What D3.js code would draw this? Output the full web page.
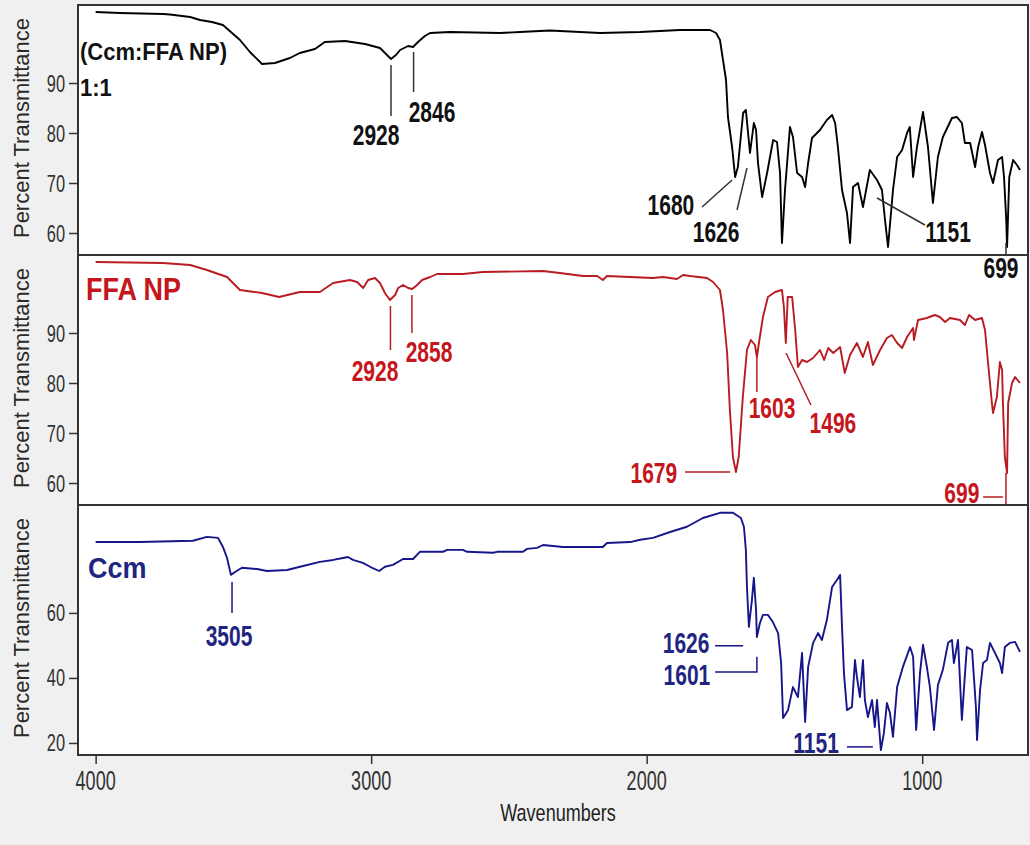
<!DOCTYPE html>
<html>
<head>
<meta charset="utf-8">
<script src="https://cdn.jsdelivr.net/npm/d3@7"></script>
<style>
  html, body { margin: 0; padding: 0; background: #f0f0f0; }
  svg { display: block; }
</style>
</head>
<body>
<div id="chart"></div>
<script>
// FTIR spectra, [wavenumber cm-1, % transmittance]
const mixSpectrum = [
  [4000,104.2],[3912,104.0],[3756,103.8],[3730,103.7],[3657,103.2],[3621,102.6],[3578,102.2],[3538,101.6],
  [3505,100.0],[3476,98.6],[3440,96.2],[3396,93.8],[3349,94.0],[3295,95.0],[3259,96.0],[3204,96.8],
  [3168,98.2],[3095,98.4],[3022,97.8],[2968,97.0],[2946,95.8],[2928,94.8],[2910,95.6],[2895,96.6],
  [2866,97.4],[2848,97.2],[2830,98.2],[2805,99.4],[2786,100.0],[2714,100.2],[2532,100.0],[2460,100.2],
  [2351,100.5],[2242,100.2],[2169,100.0],[2024,100.2],[1879,100.6],[1770,100.6],[1748,100.0],[1734,98.6],
  [1723,94.6],[1712,90.6],[1705,83.2],[1690,77.2],[1679,71.2],[1669,73.2],[1650,84.0],[1640,84.6],
  [1625,76.0],[1611,82.0],[1603,80.6],[1596,74.0],[1581,67.2],[1563,72.0],[1541,78.6],[1527,78.2],
  [1516,72.0],[1509,58.0],[1498,68.6],[1480,81.2],[1469,79.2],[1454,72.0],[1436,71.2],[1425,69.2],
  [1414,74.0],[1400,79.0],[1371,80.6],[1346,82.6],[1327,83.6],[1316,82.0],[1306,77.2],[1291,68.6],
  [1273,64.0],[1262,58.0],[1251,69.2],[1233,70.0],[1215,65.2],[1190,72.6],[1164,70.6],[1146,68.6],
  [1135,62.6],[1124,57.2],[1106,68.6],[1091,75.2],[1073,76.6],[1055,80.0],[1045,81.2],[1033,71.2],
  [1019,77.2],[997,84.2],[979,77.2],[961,66.0],[943,75.2],[925,79.2],[892,83.0],[874,83.2],
  [856,82.0],[845,78.0],[826,78.0],[808,73.2],[797,77.2],[783,80.2],[772,77.6],[754,72.0],
  [743,70.0],[725,74.6],[710,75.2],[703,71.2],[695,62.6],[692,57.2],[684,71.2],[670,74.6],
  [656,73.6],[645,72.6]
];

const ffaSpectrum = [
  [4000,104.2],[3756,104.0],[3657,103.6],[3596,102.6],[3523,101.2],[3476,98.6],[3396,98.0],[3334,97.2],
  [3259,98.2],[3186,98.2],[3138,100.0],[3077,100.6],[3051,100.2],[3029,99.0],[3011,100.6],[2986,101.0],
  [2968,100.0],[2950,98.0],[2932,96.6],[2913,97.6],[2902,99.0],[2884,99.6],[2866,99.0],[2851,98.8],
  [2833,99.6],[2815,100.6],[2786,101.2],[2761,101.8],[2667,101.8],[2594,102.2],[2376,102.4],[2315,102.0],
  [2231,101.4],[2180,101.4],[2159,100.6],[2144,101.4],[2060,101.2],[1977,101.0],[1941,101.2],[1890,100.8],
  [1868,101.6],[1843,101.4],[1781,101.0],[1759,100.2],[1734,98.6],[1723,94.6],[1708,86.0],[1698,74.6],
  [1687,65.2],[1676,62.2],[1666,65.2],[1651,77.2],[1636,86.6],[1622,88.6],[1607,87.6],[1600,85.2],
  [1592,88.2],[1578,93.2],[1560,97.2],[1534,98.2],[1509,98.6],[1502,95.2],[1495,88.0],[1488,97.2],
  [1472,97.2],[1461,90.6],[1451,83.2],[1436,84.6],[1418,84.2],[1396,85.0],[1371,86.6],[1356,84.6],
  [1341,87.0],[1323,86.0],[1298,87.2],[1281,82.0],[1262,85.6],[1237,88.0],[1215,85.2],[1197,88.2],
  [1179,83.6],[1153,86.6],[1128,89.0],[1110,89.6],[1091,88.0],[1073,87.0],[1055,89.2],[1033,91.0],
  [1030,88.6],[1015,92.6],[983,93.0],[954,93.6],[936,93.2],[917,92.2],[899,93.0],[863,92.6],
  [845,91.6],[830,93.6],[808,92.6],[783,93.0],[772,90.6],[761,84.0],[747,76.0],[743,74.0],
  [729,77.2],[718,84.2],[710,82.6],[707,76.0],[700,65.2],[692,62.0],[688,76.0],[674,80.0],
  [663,81.2],[645,80.0]
];

const ccmSpectrum = [
  [4000,81.8],[3839,81.8],[3647,82.2],[3596,83.4],[3556,83.1],[3538,80.3],[3523,76.9],[3509,71.7],
  [3494,72.6],[3469,73.9],[3414,73.5],[3378,72.9],[3305,73.2],[3258,74.2],[3186,75.7],[3138,76.3],
  [3102,76.9],[3084,77.2],[3066,76.3],[3030,75.4],[3004,74.2],[2971,72.9],[2950,74.2],[2921,74.8],
  [2884,76.6],[2848,76.6],[2823,78.8],[2739,78.8],[2725,79.4],[2667,79.4],[2652,78.8],[2558,78.5],
  [2543,78.8],[2449,78.8],[2434,79.7],[2398,80.0],[2376,80.9],[2304,80.3],[2159,80.3],[2144,81.5],
  [2060,81.8],[2024,82.5],[1977,83.1],[1915,84.9],[1854,86.5],[1796,89.2],[1734,90.8],[1687,90.8],
  [1658,89.2],[1647,86.5],[1640,79.4],[1636,68.0],[1629,55.7],[1618,64.0],[1611,70.8],[1603,60.9],
  [1600,52.6],[1589,56.9],[1578,59.4],[1560,59.4],[1542,57.2],[1523,53.8],[1512,44.6],[1505,27.7],
  [1487,30.1],[1469,37.2],[1451,34.1],[1436,47.7],[1425,26.5],[1414,43.4],[1396,50.8],[1378,53.8],
  [1364,51.7],[1346,57.8],[1327,68.0],[1309,70.2],[1298,71.7],[1291,55.7],[1284,41.5],[1273,30.1],
  [1255,31.1],[1244,45.5],[1237,40.3],[1226,34.1],[1215,45.5],[1208,33.2],[1197,28.0],[1182,33.2],
  [1172,24.9],[1164,33.2],[1150,17.8],[1139,23.1],[1128,32.3],[1117,29.2],[1106,21.9],[1091,37.2],
  [1070,43.4],[1044,49.5],[1033,46.5],[1022,24.0],[1008,41.5],[997,50.2],[983,43.4],[972,37.2],
  [957,24.0],[943,37.8],[925,42.5],[906,50.8],[892,51.7],[885,44.6],[870,51.7],[856,27.1],
  [838,49.5],[819,48.6],[805,31.1],[801,20.9],[790,36.3],[779,44.6],[765,45.5],[754,50.8],
  [736,47.7],[718,44.6],[710,41.5],[700,49.5],[681,50.8],[663,51.1],[645,48.0]
];

const xTicks = [4000, 3000, 2000, 1000];
const upperTicks = [90, 80, 70, 60];
const lowerTicks = [60, 40, 20];

// peak labels: text, where the label sits [wavenumber, %T], leader polylines in the same units
const mixPeaks = [
  { label: '2928', at: [2982, 77.6], lines: [[[2928, 93.6], [2928, 83.4]]] },
  { label: '2846', at: [2779, 82.2], lines: [[[2846, 96.2], [2846, 88.2]]] },
  { label: '1680', at: [1912, 63.6], lines: [[[1799, 65.2], [1690, 70.6]]] },
  { label: '1626', at: [1748, 58.2], lines: [[[1672, 64.6], [1636, 73.0]]] },
  { label: '1151', at: [906, 58.2], lines: [[[990, 61.6], [1164, 67.0]]] },
  { label: '699', at: [714, 51.0], lines: [[[696, 58.0], [696, 55.6]]] }
];
const ffaPeaks = [
  { label: '2928', at: [2986, 80.4], lines: [[[2930, 95.4], [2930, 86.6]]] },
  { label: '2858', at: [2790, 84.2], lines: [[[2852, 97.6], [2852, 90.0]]] },
  { label: '1679', at: [1974, 60.0], lines: [[[1861, 62.2], [1697, 62.2]]] },
  { label: '1603', at: [1545, 73.0], lines: [[[1600, 85.2], [1600, 78.2]]] },
  { label: '1496', at: [1324, 70.0], lines: [[[1494, 86.0], [1404, 75.6]]] },
  { label: '699', at: [856, 56.0], lines: [[[779, 57.2], [707, 57.2]], [[696, 62.0], [696, 55.6]]] }
];
const ccmPeaks = [
  { label: '3505', at: [3516, 49.8], lines: [[[3505, 69.5], [3505, 60.0]]] },
  { label: '1626', at: [1857, 47.6], lines: [[[1752, 49.9], [1650, 49.9]]] },
  { label: '1601', at: [1854, 37.7], lines: [[[1752, 41.8], [1600, 41.8], [1600, 46.5]]] },
  { label: '1151', at: [1385, 16.9], lines: [[[1273, 18.8], [1179, 18.8]]] }
];

class StackedSpectra {
  constructor(_config, _panels) {
    this.config = {
      parentElement: _config.parentElement,
      containerWidth: _config.containerWidth || 1030,
      containerHeight: _config.containerHeight || 845,
      margin: _config.margin || { top: 5, right: 2, bottom: 90, left: 78 },
      xDomain: _config.xDomain,
      tickSize: 9,
      font: 'Liberation Sans, Arial, sans-serif'
    };
    this.panels = _panels;
    this.initVis();
  }

  // text helper: the original figure's lettering is narrow and a little tall
  addText(parent, x, y, str, o) {
    let vis = this;
    return parent.append('text')
      .attr('transform', `translate(${x},${y}) scale(${o.sx || 1},${o.sy || 1})`)
      .attr('text-anchor', o.anchor || 'middle')
      .style('font-family', vis.config.font)
      .style('font-size', o.size + 'px')
      .style('font-weight', o.weight || 'normal')
      .attr('fill', o.color || '#222')
      .text(str);
  }

  initVis() {
    let vis = this;

    vis.width = vis.config.containerWidth - vis.config.margin.left - vis.config.margin.right;
    vis.height = vis.config.containerHeight - vis.config.margin.top - vis.config.margin.bottom;
    vis.panelHeight = vis.height / vis.panels.length;

    vis.svg = d3.select(vis.config.parentElement).append('svg')
      .attr('width', vis.config.containerWidth)
      .attr('height', vis.config.containerHeight);

    vis.svg.append('rect')
      .attr('width', vis.config.containerWidth)
      .attr('height', vis.config.containerHeight)
      .attr('fill', '#f0f0f0');

    vis.chart = vis.svg.append('g')
      .attr('transform', `translate(${vis.config.margin.left},${vis.config.margin.top})`);

    // white plotting areas go underneath everything, so labels may spill over panel edges
    vis.chart.append('g').attr('class', 'backgrounds')
      .selectAll('rect')
      .data(vis.panels)
      .join('rect')
      .attr('y', (d, i) => i * vis.panelHeight)
      .attr('width', vis.width)
      .attr('height', vis.panelHeight)
      .attr('fill', '#fff');

    vis.xScale = d3.scaleLinear()
      .domain(vis.config.xDomain)
      .range([0, vis.width]);

    vis.renderVis();
  }

  renderVis() {
    let vis = this;

    vis.panels.forEach((p, i) => {
      const g = vis.chart.append('g')
        .attr('transform', `translate(0,${i * vis.panelHeight})`);

      const yScale = d3.scaleLinear()
        .domain(p.yDomain)
        .range([vis.panelHeight, 0]);

      g.append('rect')
        .attr('width', vis.width)
        .attr('height', vis.panelHeight)
        .attr('fill', 'none')
        .attr('stroke', '#333')
        .attr('stroke-width', 2);

      // spectrum
      const line = d3.line()
        .x(d => vis.xScale(d[0]))
        .y(d => yScale(d[1]));

      g.append('path')
        .datum(p.data)
        .attr('d', line)
        .attr('fill', 'none')
        .attr('stroke', p.color)
        .attr('stroke-width', 1.9)
        .attr('stroke-linejoin', 'round');

      // y ticks
      const yAxis = d3.axisLeft(yScale)
        .tickValues(p.ticks)
        .tickSize(vis.config.tickSize)
        .tickFormat('');
      const yAxisG = g.append('g').call(yAxis);
      yAxisG.select('.domain').remove();
      yAxisG.selectAll('line').attr('stroke', '#333').attr('stroke-width', 1.5);

      p.ticks.forEach(t => {
        vis.addText(g, -13, yScale(t) + 8.5, t, { size: 20, sx: 0.82, sy: 1.2, anchor: 'end', color: '#333' });
      });

      // axis title per panel
      g.append('text')
        .attr('transform', `translate(-49,${vis.panelHeight / 2 - 2}) rotate(-90)`)
        .attr('text-anchor', 'middle')
        .style('font-family', vis.config.font)
        .style('font-size', '22px')
        .attr('fill', '#2a2a2a')
        .text('Percent Transmittance');

      // sample labels
      p.labels.forEach(l => {
        vis.addText(g, l.x, l.y, l.text, { size: l.size, sy: l.sy, weight: 'bold', anchor: 'start', color: p.textColor });
      });

      // peak annotations
      const leader = d3.line()
        .x(d => vis.xScale(d[0]))
        .y(d => yScale(d[1]));

      p.peaks.forEach(pk => {
        pk.lines.forEach(pts => {
          g.append('path')
            .attr('d', leader(pts))
            .attr('fill', 'none')
            .attr('stroke', p.leaderColor)
            .attr('stroke-width', 1.5);
        });
        vis.addText(g, vis.xScale(pk.at[0]), yScale(pk.at[1]), pk.label,
          { size: 25, sx: 0.84, sy: 1.18, weight: 'bold', color: p.textColor });
      });
    });

    // x axis
    const xAxis = d3.axisBottom(vis.xScale)
      .tickValues(xTicks)
      .tickSize(vis.config.tickSize)
      .tickFormat('');
    const xAxisG = vis.chart.append('g')
      .attr('transform', `translate(0,${vis.height})`)
      .call(xAxis);
    xAxisG.select('.domain').remove();
    xAxisG.selectAll('line').attr('stroke', '#333').attr('stroke-width', 1.5);

    xTicks.forEach(t => {
      vis.addText(vis.chart, vis.xScale(t), vis.height + 35, t, { size: 22, sx: 0.82, sy: 1.22, color: '#333' });
    });

    vis.addText(vis.chart, vis.width / 2 + 5, vis.height + 66, 'Wavenumbers',
      { size: 22, sx: 0.82, sy: 1.1, color: '#222' });
  }
}

const panels = [
  {
    data: mixSpectrum, yDomain: [55.6, 105.6], ticks: upperTicks, peaks: mixPeaks,
    color: '#000', leaderColor: '#333', textColor: '#111',
    labels: [
      { text: '(Ccm:FFA NP)', x: 2, y: 55, size: 22, sy: 1.1 },
      { text: '1:1', x: 2, y: 91, size: 22, sy: 1.1 }
    ]
  },
  {
    data: ffaSpectrum, yDomain: [55.6, 105.6], ticks: upperTicks, peaks: ffaPeaks,
    color: '#b81c22', leaderColor: '#b81c22', textColor: '#c4161c',
    labels: [{ text: 'FFA NP', x: 8, y: 45, size: 27, sy: 1.18 }]
  },
  {
    data: ccmSpectrum, yDomain: [16.3, 93.2], ticks: lowerTicks, peaks: ccmPeaks,
    color: '#16168a', leaderColor: '#16168a', textColor: '#1f2580',
    labels: [{ text: 'Ccm', x: 10, y: 73, size: 27, sy: 1.12 }]
  }
];

new StackedSpectra({ parentElement: '#chart', xDomain: [4064, 616] }, panels);
</script>
</body>
</html>
